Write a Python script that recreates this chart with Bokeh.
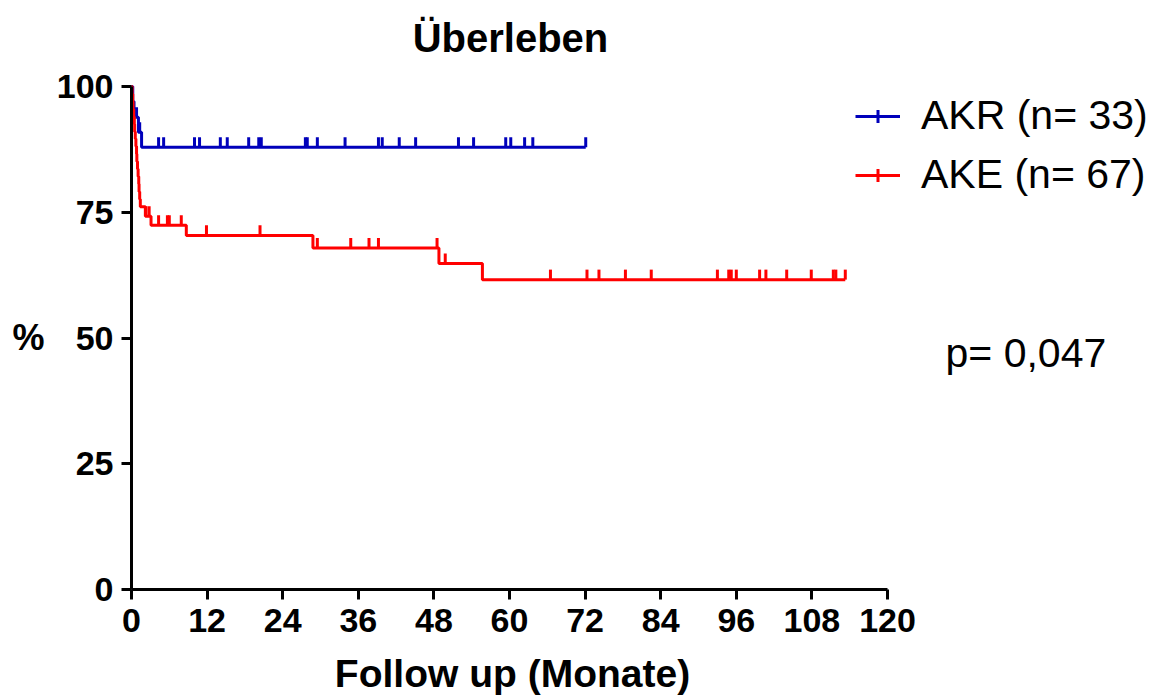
import numpy as np
from bokeh.plotting import figure
from bokeh.models import Legend, LegendItem, Label, ColumnDataSource, FixedTicker
from bokeh.transform import dodge
from bokeh.embed import file_html
from bokeh.resources import INLINE

# ---- data ----
x_ticks = [0, 12, 24, 36, 48, 60, 72, 84, 96, 108, 120]
y_ticks = [0, 25, 50, 75, 100]

akr_label = "AKR (n= 33)"
akr_t = [0, 0.2, 0.4, 1.1, 1.6, 72.1]
akr_s = [100, 97.0, 93.9, 90.9, 87.9, 87.9]
akr_cens = [0.8, 1.3, 4.3, 5.1, 10.0, 10.8, 14.1, 15.2, 18.6, 20.2, 20.6, 27.6, 27.9,
            29.5, 33.9, 39.2, 39.8, 42.5, 45.1, 51.9, 54.3, 59.4, 60.2, 62.4, 63.7, 72.1]

ake_label = "AKE (n= 67)"
ake_t = [0, 0.1, 0.2, 0.25, 0.35, 0.45, 0.5, 0.6, 0.7, 0.8, 0.85, 0.95, 1.05, 1.15, 1.2,
         1.3, 1.4, 2.2, 3.1, 8.7, 28.8, 48.8, 55.7, 113.3]
ake_s = [100, 98.5, 97.0, 95.5, 94.0, 92.5, 91.0, 89.6, 88.1, 86.6, 85.1, 83.6, 82.1, 80.6,
         79.1, 77.6, 76.1, 74.2, 72.4, 70.4, 67.9, 64.8, 61.6, 61.6]
ake_cens = [2.3, 2.8, 4.3, 5.7, 6.0, 7.9, 11.9, 20.4, 29.5, 34.8, 37.7, 39.2, 48.5, 49.8,
            66.5, 72.3, 74.2, 78.4, 82.5, 93.0, 94.8, 95.2, 96.0, 99.7, 100.7, 104.0,
            107.9, 111.4, 111.8, 113.3]

title_text = "Überleben"
x_title = "Follow up (Monate)"
y_title = "%"
p_text = "p= 0,047"

BLUE = "#0000BB"
RED = "#FF0000"
FONT = "Liberation Sans"

# page layout (pixels): the 0..120 x 0..100 box sits at x 131..887, y 86..589
W, H = 1155, 700
AX_L, AX_R, AX_T, AX_B = 131, 887, 86, 589
XMAX, YMAX = 120, 100
sx = (AX_R - AX_L) / XMAX
sy = (AX_B - AX_T) / YMAX
x_start = -AX_L / sx
x_end = x_start + W / sx
y_end = YMAX + AX_T / sy
y_start = -(H - AX_B) / sy


def level_at(times, surv, pts):
    idx = np.searchsorted(np.array(times), np.array(pts), side="right") - 1
    return [surv[i] for i in idx]


p = figure(width=W, height=H, x_range=(x_start, x_end), y_range=(y_start, y_end),
           output_backend="svg", toolbar_location=None, title=None,
           min_border_left=0, min_border_right=0, min_border_top=0, min_border_bottom=0)

p.xgrid.visible = False
p.ygrid.visible = False
p.outline_line_color = None
p.background_fill_color = "white"
p.border_fill_color = "white"

for ax in (p.xaxis[0], p.yaxis[0]):
    ax.fixed_location = 0
    ax.axis_line_width = 3
    ax.axis_line_color = "black"
    ax.major_tick_line_width = 3
    ax.major_tick_line_color = "black"
    ax.major_tick_in = 0
    ax.major_tick_out = 10
    ax.minor_tick_line_color = None
    ax.major_label_text_font = FONT
    ax.major_label_text_font_size = "34px"
    ax.major_label_text_font_style = "bold"
    ax.major_label_text_color = "black"

p.xaxis.bounds = (0, XMAX)
p.yaxis.bounds = (0, YMAX)
p.xaxis.ticker = FixedTicker(ticks=x_ticks)
p.yaxis.ticker = FixedTicker(ticks=y_ticks)
p.xaxis.major_label_standoff = 9
p.yaxis.major_label_standoff = 8

src_akr = ColumnDataSource(dict(t=akr_cens, s=level_at(akr_t, akr_s, akr_cens)))
src_ake = ColumnDataSource(dict(t=ake_cens, s=level_at(ake_t, ake_s, ake_cens)))
# legend-only key marks (NaN position, so nothing is drawn in the plot)
key_src = ColumnDataSource(dict(t=[np.nan], s=[np.nan]))

akr_line = p.step(akr_t, akr_s, mode="after", line_color=BLUE, line_width=3)
akr_marks = p.scatter(x="t", y=dodge("s", 1.0), source=src_akr, marker="dash",
                      angle=np.pi / 2, size=10, line_color=BLUE, line_width=3)
akr_key = p.scatter(x="t", y="s", source=key_src, marker="cross",
                    line_color=BLUE, line_width=3)
ake_line = p.step(ake_t, ake_s, mode="after", line_color=RED, line_width=3)
ake_marks = p.scatter(x="t", y=dodge("s", 1.0), source=src_ake, marker="dash",
                      angle=np.pi / 2, size=10, line_color=RED, line_width=3)
ake_key = p.scatter(x="t", y="s", source=key_src, marker="cross",
                    line_color=RED, line_width=3)

legend = Legend(items=[LegendItem(label=akr_label, renderers=[akr_line, akr_key]),
                       LegendItem(label=ake_label, renderers=[ake_line, ake_key])],
                location=(855, H - 198), padding=0, margin=0, border_line_color=None,
                background_fill_alpha=0, label_text_font=FONT,
                label_text_font_size="41px", label_text_color="black",
                glyph_width=45, glyph_height=32, label_height=45, spacing=12,
                label_standoff=21)
p.add_layout(legend, "center")


def add_text(text, x, y, size, bold=False, align="left"):
    p.add_layout(Label(x=x, y=H - y, x_units="screen", y_units="screen", text=text,
                       text_font=FONT, text_font_size=size,
                       text_font_style="bold" if bold else "normal",
                       text_align=align, text_baseline="middle", text_color="black"))


add_text(title_text, 510, 37, "40px", bold=True, align="center")
add_text(x_title, 512, 673, "39px", bold=True, align="center")
add_text(y_title, 12, 337, "36px", bold=True)
add_text(p_text, 945, 352, "41px")

open("out.html", "w").write(file_html(p, INLINE))
